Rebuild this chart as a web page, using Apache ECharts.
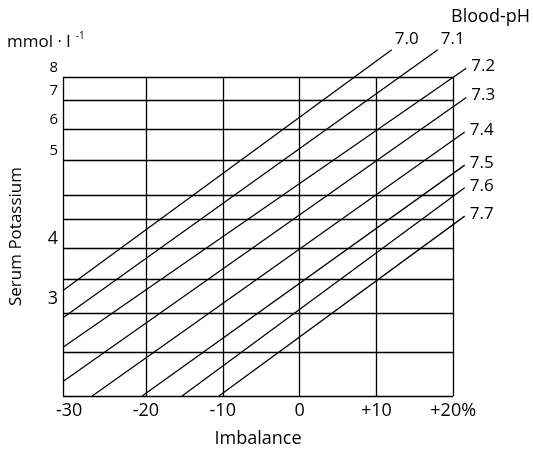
<!DOCTYPE html>
<html><head><meta charset="utf-8">
<script src="https://cdn.jsdelivr.net/npm/echarts@6/dist/echarts.min.js"></script>
<style>html,body{margin:0;padding:0;background:#fff}#c{width:533px;height:453px}</style>
</head><body><div id="c"></div>
<script>
// pH isolines: start and end points (Imbalance %, Serum potassium mmol/l)
const phLevels   = ['7.0','7.1','7.2','7.3','7.4','7.5','7.6','7.7'];
const lineStartX = [-30.8, -30.8, -30.8, -30.8, -27.0, -20.5, -15.3, -10.5];
const lineStartY = [2.31, 1.97, 1.66, 1.36, 1.25, 1.25, 1.25, 1.25];
const lineEndX   = [12.0, 18.0, 21.7, 21.7, 21.5, 21.5, 21.5, 21.5];
const lineEndY   = [9.37, 9.37, 8.42, 7.10, 5.81, 4.79, 4.20, 3.56];

// axes / frame
const xFrame = [-30.8, 20];          // left and right edge of the plotting frame
const yFrame = [1.25, 8];            // bottom and top edge of the plotting frame
const xTickValues = [-30, -20, -10, 0, 10, 20];
const xTickLabels = ['-30', '-20', '-10', '0', '+10', '+20%'];
const xGridValues = [-20, -10, 0, 10];
const yGridValues = [6.97, 5.90, 4.93, 4.03, 3.49, 2.96, 2.47, 2.02, 1.61];
const yLabelValues = [8, 6.97, 5.90, 4.93, 2.92, 2.06];
const yLabelTexts  = ['8', '7', '6', '5', '4', '3'];

const F = '"Open Sans", "Noto Sans", sans-serif';
const chart = echarts.init(document.getElementById('c'), null, {renderer: 'canvas'});

function nearestIndex(arr, v) {
  let best = 0;
  for (let i = 1; i < arr.length; i++) if (Math.abs(arr[i] - v) < Math.abs(arr[best] - v)) best = i;
  return best;
}

const series = phLevels.map((ph, i) => ({
  name: ph,
  type: 'line',
  data: [
    [lineStartX[i], lineStartY[i]],
    {
      value: [lineEndX[i], lineEndY[i]],
      label: {
        show: true,
        position: 'right',
        distance: 5,
        formatter: () => ph,
        color: '#000',
        fontSize: 17,
        fontFamily: F,
        offset: i < 2 ? [-2, -11] : [0, -2]
      }
    }
  ],
  symbol: 'circle',
  symbolSize: 0,
  showSymbol: true,
  showAllSymbol: true,
  itemStyle: {color: 'rgba(0,0,0,0)'},
  clip: false,
  silent: true,
  animation: false,
  z: 3,
  lineStyle: {color: '#000', width: 1.3}
}));

// grid lines and frame as segments
const segs = [];
xFrame.concat(xGridValues).forEach(v => segs.push([{coord: [v, yFrame[0]]}, {coord: [v, yFrame[1]]}]));
yFrame.concat(yGridValues).forEach(v => segs.push([{coord: [xFrame[0], v]}, {coord: [xFrame[1], v]}]));

series.push({
  type: 'line',
  data: [],
  silent: true,
  animation: false,
  clip: false,
  z: 2,
  markLine: {
    silent: true,
    animation: false,
    symbol: ['none', 'none'],
    label: {show: false},
    emphasis: {disabled: true},
    lineStyle: {color: '#000', type: 'solid', width: 1.3},
    data: segs
  }
});

chart.setOption({
  animation: false,
  backgroundColor: '#fff',
  title: [
    {text: 'Blood-pH', right: 3, top: 8, padding: 0,
     textStyle: {fontSize: 18, fontWeight: 'normal', color: '#000', fontFamily: F}},
    {text: '{a|mmol · l}{s|  -1}', left: 7, top: 31, padding: 0,
     textStyle: {fontWeight: 'normal', rich: {
       a: {fontSize: 17, fontWeight: 'normal', color: '#000', fontFamily: F, verticalAlign: 'bottom', lineHeight: 20},
       s: {fontSize: 10, fontWeight: 'normal', color: '#000', fontFamily: F, verticalAlign: 'top', lineHeight: 20}
     }}}
  ],
  grid: {left: 62, right: 66, top: 77, bottom: 56, show: false},
  xAxis: {
    type: 'value', min: xFrame[0], max: 21.8,
    name: 'Imbalance', nameLocation: 'middle', nameGap: 34,
    nameTextStyle: {fontSize: 18, color: '#000', fontFamily: F, padding: [0, 14, 0, 0]},
    axisLine: {show: false}, axisTick: {show: false}, splitLine: {show: false},
    axisLabel: {
      customValues: xTickValues,
      formatter: v => xTickLabels[nearestIndex(xTickValues, v)],
      fontSize: 18, color: '#000', fontFamily: F, margin: 6
    }
  },
  yAxis: {
    type: 'log', logBase: 10, min: yFrame[0], max: yFrame[1],
    name: 'Serum Potassium', nameLocation: 'middle', nameGap: 38, nameRotate: 90,
    nameTextStyle: {fontSize: 17, color: '#000', fontFamily: F},
    axisLine: {show: false}, axisTick: {show: false}, splitLine: {show: false},
    axisLabel: {
      customValues: yLabelValues,
      formatter: v => {
        const i = nearestIndex(yLabelValues, v);
        return i >= 4 ? '{big|' + yLabelTexts[i] + '}' : yLabelTexts[i];
      },
      fontSize: 15, lineHeight: 15, color: '#000', fontFamily: F, margin: 5,
      verticalAlign: 'bottom', padding: [0, 0, 2, 0],
      rich: {big: {fontSize: 18, lineHeight: 18, color: '#000', fontFamily: F}}
    }
  },
  series: series
});
</script>
</body></html>
